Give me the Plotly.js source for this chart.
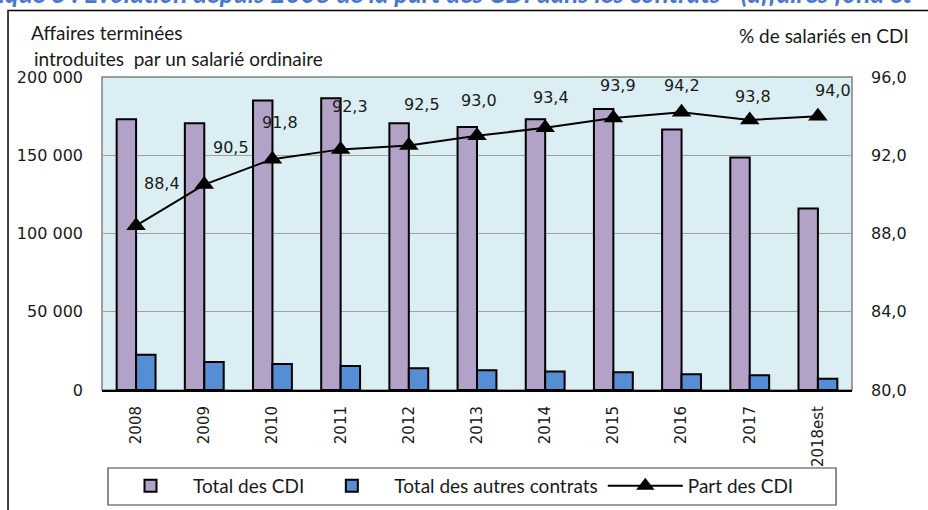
<!DOCTYPE html>
<html>
<head>
<meta charset="utf-8">
<script src="https://cdn.plot.ly/plotly-3.0.1.min.js"></script>
<style>
html, body { margin: 0; padding: 0; background: #ffffff; }
#chart { width: 928px; height: 510px; }
</style>
</head>
<body>
<div id="chart"></div>
<script>
// ---- data ----
const categories = ['2008', '2009', '2010', '2011', '2012', '2013', '2014', '2015', '2016', '2017', '2018est'];
const totalCDI = [173000, 170500, 185000, 186500, 170500, 168000, 173000, 179500, 166500, 148500, 116000];
const totalAutres = [22500, 17900, 16600, 15300, 13900, 12600, 11900, 11300, 10000, 9400, 7200];
const partCDI = [88.4, 90.5, 91.8, 92.3, 92.5, 93.0, 93.4, 93.9, 94.2, 93.8, 94.0];

const seriesNames = ['Total des CDI', 'Total des autres contrats', 'Part des CDI'];
const titleText = 'Graphique 3 : Évolution depuis 2008 de la part des CDI dans les contrats - (affaires fond ét';
const leftTitle1 = 'Affaires terminées';
const leftTitle2 = 'introduites\u00a0\u00a0par un salarié ordinaire';
const rightTitle = '% de salariés en CDI';

// label offsets (pixels) for the data labels of the line
const labelDX = [26, 27, 8, 9, 13, 2, 6, 5, 0, 3, 15];
const labelDY = [42, 37, 37, 43, 41, 35, 30, 33, 27, 24, 26];

const tickFont = { family: 'DejaVu Sans, Verdana, sans-serif', size: 15, color: '#1a1a1a' };
const textFont = { family: 'Lato, Carlito, Calibri, sans-serif', size: 19, color: '#1a1a1a' };

const traces = [
  {
    type: 'bar', name: seriesNames[0], x: categories, y: totalCDI,
    marker: { color: '#B3A2C7', line: { color: '#000000', width: 2 } },
    hoverinfo: 'skip'
  },
  {
    type: 'bar', name: seriesNames[1], x: categories, y: totalAutres,
    marker: { color: '#558ED5', line: { color: '#000000', width: 2 } },
    hoverinfo: 'skip'
  },
  {
    type: 'scatter', mode: 'lines+markers', name: seriesNames[2], x: categories, y: partCDI,
    yaxis: 'y2',
    line: { color: '#000000', width: 2 },
    marker: { symbol: 'triangle-up', size: 17, color: '#000000' },
    hoverinfo: 'skip'
  }
];

// category axis: annotation x given as the category index
const annotations = partCDI.map((v, i) => ({
  x: i, y: v, xref: 'x', yref: 'y2',
  text: v.toFixed(1).replace('.', ','),
  showarrow: false, xshift: labelDX[i], yshift: labelDY[i],
  font: { family: 'DejaVu Sans, Verdana, sans-serif', size: 16, color: '#1a1a1a' }
}));

annotations.push(
  { xref: 'paper', yref: 'paper', x: -0.2307, y: 1.2684, xanchor: 'left', yanchor: 'middle',
    text: titleText, showarrow: false,
    font: { family: 'Lato, Carlito, Calibri, sans-serif', size: 26, color: '#4A78CC', weight: 700, style: 'italic' } },
  { xref: 'paper', yref: 'paper', x: -0.0973, y: 1.1406, xanchor: 'left', yanchor: 'middle',
    text: leftTitle1, showarrow: false, font: textFont },
  { xref: 'paper', yref: 'paper', x: -0.0933, y: 1.0607, xanchor: 'left', yanchor: 'middle',
    text: leftTitle2, showarrow: false, font: textFont },
  { xref: 'paper', yref: 'paper', x: 1.0787, y: 1.131, xanchor: 'right', yanchor: 'middle',
    text: rightTitle, showarrow: false, font: textFont }
);

const shapes = [
  // outer frame of the chart (left and top edges visible)
  { type: 'rect', xref: 'paper', yref: 'paper', x0: -0.1253, x1: 1.11, y0: -0.42, y1: 1.2125,
    line: { color: '#000000', width: 1.5 }, fillcolor: 'rgba(0,0,0,0)', layer: 'below' },
  // plot area frame
  { type: 'rect', xref: 'paper', yref: 'paper', x0: 0, x1: 1, y0: 0, y1: 1,
    line: { color: '#808080', width: 1.5 }, fillcolor: 'rgba(0,0,0,0)', layer: 'below' },
  // legend frame
  { type: 'rect', xref: 'paper', yref: 'paper', x0: 0.008, x1: 0.9787, y0: -0.3674, y1: -0.2492,
    line: { color: '#404040', width: 1.2 }, fillcolor: 'rgba(0,0,0,0)' }
];

const layout = {
  width: 928, height: 510,
  margin: { l: 102, r: 76, t: 77, b: 120, autoexpand: false },
  paper_bgcolor: '#ffffff',
  plot_bgcolor: '#DAEEF3',
  separators: ', ',
  barmode: 'group',
  bargap: 0.43,
  bargroupgap: 0,
  showlegend: true,
  legend: {
    orientation: 'h', x: 0.008, xanchor: 'left', y: -0.3067, yanchor: 'middle',
    bgcolor: 'rgba(0,0,0,0)', borderwidth: 0,
    font: textFont, itemwidth: 75,
    traceorder: 'normal'
  },
  xaxis: {
    type: 'category', tickangle: -90, tickfont: tickFont,
    showline: true, linecolor: '#000000', linewidth: 2,
    ticks: '', showgrid: false, ticklabelstandoff: 8,
    range: [-0.5, 10.5], fixedrange: true
  },
  yaxis: {
    range: [0, 200000], dtick: 50000, tick0: 0, tickformat: ',d',
    tickfont: { family: 'DejaVu Sans, Verdana, sans-serif', size: 16, color: '#1a1a1a' },
    showgrid: true, gridcolor: '#A0A0A0', gridwidth: 1.2,
    zeroline: false, showline: false, ticks: '', ticklabelstandoff: 18,
    fixedrange: true
  },
  yaxis2: {
    overlaying: 'y', side: 'right', range: [80, 96], dtick: 4, tick0: 80, tickformat: '.1f',
    tickfont: { family: 'DejaVu Sans, Verdana, sans-serif', size: 16, color: '#1a1a1a' },
    showgrid: false, zeroline: false, showline: false, ticks: '', ticklabelstandoff: 18,
    fixedrange: true
  },
  annotations: annotations,
  shapes: shapes
};

Plotly.newPlot('chart', traces, layout, { staticPlot: true, displayModeBar: false });
</script>
</body>
</html>
